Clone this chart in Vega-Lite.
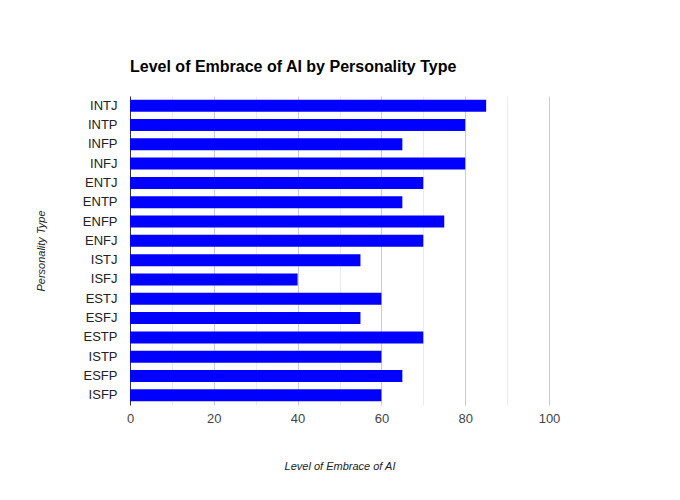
{
  "$schema": "https://vega.github.io/schema/vega-lite/v6.json",
  "width": 419,
  "height": 309,
  "autosize": "none",
  "padding": {"left": 130, "top": 96, "right": 131, "bottom": 95},
  "background": "white",
  "title": {
    "text": "Level of Embrace of AI by Personality Type",
    "anchor": "start",
    "frame": "group",
    "font": "Liberation Sans",
    "fontSize": 16,
    "fontWeight": "bold",
    "color": "#000000",
    "offset": 21
  },
  "data": {
    "values": [
      {"type": "INTJ", "embrace": 85},
      {"type": "INTP", "embrace": 80},
      {"type": "INFP", "embrace": 65},
      {"type": "INFJ", "embrace": 80},
      {"type": "ENTJ", "embrace": 70},
      {"type": "ENTP", "embrace": 65},
      {"type": "ENFP", "embrace": 75},
      {"type": "ENFJ", "embrace": 70},
      {"type": "ISTJ", "embrace": 55},
      {"type": "ISFJ", "embrace": 40},
      {"type": "ESTJ", "embrace": 60},
      {"type": "ESFJ", "embrace": 55},
      {"type": "ESTP", "embrace": 70},
      {"type": "ISTP", "embrace": 60},
      {"type": "ESFP", "embrace": 65},
      {"type": "ISFP", "embrace": 60}
    ]
  },
  "mark": {"type": "bar", "color": "#0000ff"},
  "encoding": {
    "y": {
      "field": "type",
      "type": "nominal",
      "sort": null,
      "scale": {"paddingInner": 0.38, "paddingOuter": 0.19},
      "axis": {
        "title": "Personality Type",
        "titleFontStyle": "italic",
        "titleFontWeight": "normal",
        "titleFont": "Liberation Sans",
        "titleFontSize": 11,
        "titleColor": "#222222",
        "titlePadding": 36,
        "labelFont": "Liberation Sans",
        "labelFontSize": 13,
        "labelColor": "#222222",
        "labelPadding": 13,
        "ticks": false,
        "domainColor": "#333333",
        "domainWidth": 1
      }
    },
    "x": {
      "field": "embrace",
      "type": "quantitative",
      "scale": {"domain": [0, 100], "nice": false},
      "axis": {
        "title": "Level of Embrace of AI",
        "titleFontStyle": "italic",
        "titleFontWeight": "normal",
        "titleFont": "Liberation Sans",
        "titleFontSize": 11,
        "titleColor": "#222222",
        "titlePadding": 35,
        "labelFont": "Liberation Sans",
        "labelFontSize": 13,
        "labelColor": "#444444",
        "labelPadding": 7,
        "labelFlush": false,
        "values": [0, 10, 20, 30, 40, 50, 60, 70, 80, 90, 100],
        "labelExpr": "datum.value % 20 === 0 ? datum.label : ''",
        "ticks": false,
        "domain": false,
        "grid": true,
        "gridColor": {
          "condition": {"test": "datum.value % 20 === 0", "value": "#cccccc"},
          "value": "#ebebeb"
        }
      }
    }
  },
  "config": {"view": {"stroke": null}}
}
